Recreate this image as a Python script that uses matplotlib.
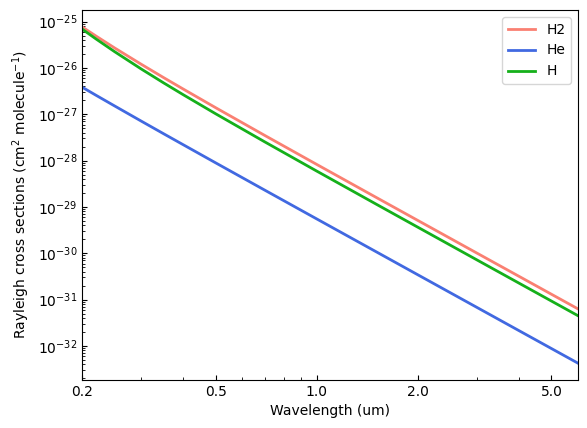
import matplotlib
matplotlib.use("Agg")
import matplotlib.pyplot as plt
from matplotlib.ticker import FixedLocator, FormatStrFormatter, NullFormatter

wavelength = [0.2, 0.22, 0.25, 0.3, 0.35, 0.4, 0.5, 0.7, 1.0, 1.5, 2.0, 3.0, 4.0, 5.0, 6.0]
sigma_h2 = [7.72e-26, 4.90e-26, 2.71e-26, 1.205e-26, 6.19e-27, 3.52e-27, 1.388e-27, 3.50e-28,
            8.27e-29, 1.619e-29, 5.11e-30, 1.007e-30, 3.185e-31, 1.303e-31, 6.29e-32]
sigma_he = [3.86e-27, 2.58e-27, 1.516e-27, 7.14e-28, 3.80e-28, 2.21e-28, 8.95e-29, 2.307e-29,
            5.51e-30, 1.086e-30, 3.43e-31, 6.77e-32, 2.14e-32, 8.77e-33, 4.23e-33]
sigma_h = [6.93e-26, 4.24e-26, 2.25e-26, 9.53e-27, 4.76e-27, 2.655e-27, 1.026e-27, 2.54e-28,
           5.94e-29, 1.158e-29, 3.65e-30, 7.18e-31, 2.27e-31, 9.29e-32, 4.48e-32]
xtick_values = [0.2, 0.5, 1.0, 2.0, 5.0]

fig = plt.figure(figsize=(5.87, 4.28), dpi=100)
ax = fig.add_axes([0.1397, 0.1121, 0.845, 0.8645])
ax.plot(wavelength, sigma_h2, color="salmon", lw=2, label="H2")
ax.plot(wavelength, sigma_he, color="royalblue", lw=2, label="He")
ax.plot(wavelength, sigma_h, color="#15b01a", lw=2, label="H")
ax.set_xscale("log")
ax.set_yscale("log")
ax.set_xlim(0.2, 6.0)
ax.xaxis.set_major_locator(FixedLocator(xtick_values))
ax.xaxis.set_major_formatter(FormatStrFormatter("%.1f"))
ax.xaxis.set_minor_formatter(NullFormatter())
ax.tick_params(which="both", direction="in")
ax.set_xlabel("Wavelength (um)")
ax.set_ylabel(r"Rayleigh cross sections (cm$^2$ molecule$^{-1}$)")
ax.legend(loc="upper right")
fig.savefig("out.png", dpi=100)
